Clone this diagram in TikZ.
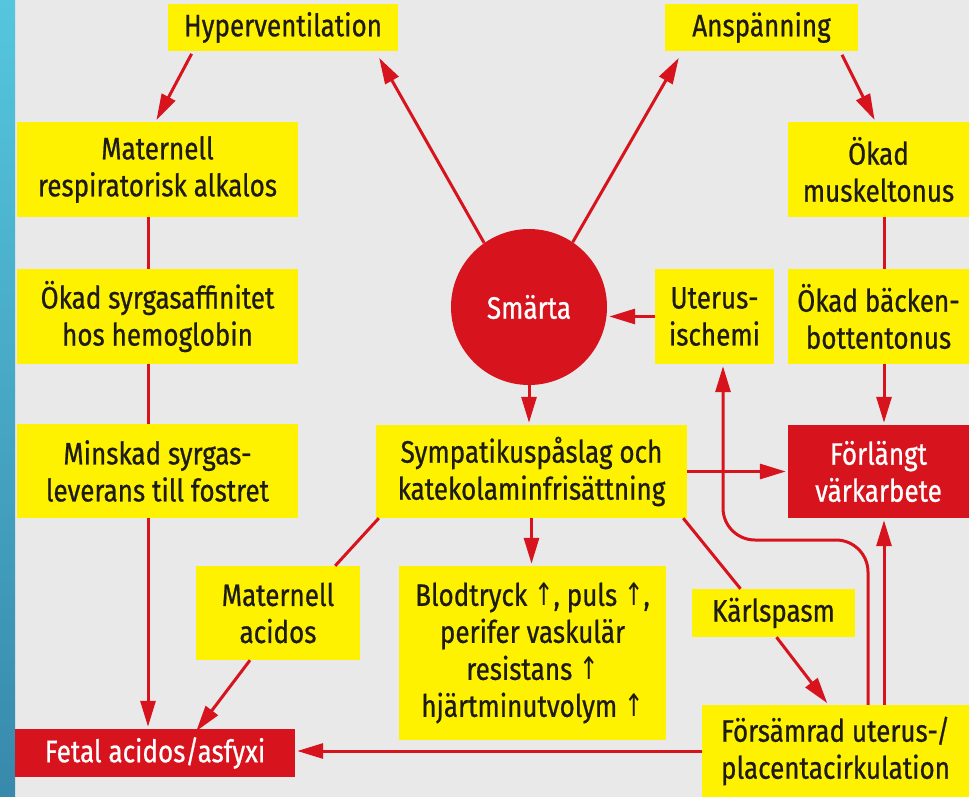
\documentclass[tikz,border=0pt]{standalone}
\usepackage{fontspec}
\setmainfont{Fira Sans}[FakeStretch=0.84, FakeBold=0.7]
\newfontfamily\arrfont{DejaVu Sans}[FakeStretch=0.75]
\usetikzlibrary{arrows.meta,calc}
\definecolor{bg}{HTML}{E9E9E9}
\definecolor{ybox}{HTML}{FFF200}
\definecolor{rbox}{HTML}{D7141D}
\definecolor{ink}{HTML}{1E1B14}
\definecolor{stripT}{HTML}{55C6DE}
\definecolor{stripB}{HTML}{3889AB}
\newcommand{\uparr}{{\arrfont ↑}}
\begin{document}
\begin{tikzpicture}[x=1pt,y=-1pt,
  ybx/.style={fill=ybox, text=ink, inner sep=0pt, align=center, font=\fontsize{31}{37}\selectfont},
  rbx/.style={fill=rbox, text=white, inner sep=0pt, align=center, font=\fontsize{31}{37}\selectfont},
  arr/.style={draw=rbox, line width=3pt, -{Triangle[length=26pt,width=15pt]}, shorten >=2pt},
  ln/.style={draw=rbox, line width=3pt},
]
\useasboundingbox (0,0) rectangle (969,797);
\fill[bg] (0,0) rectangle (969,797);
\shade[top color=stripT, bottom color=stripB] (0,0) rectangle (15,797);

% boxes
\node[ybx, minimum width=230pt, minimum height=47pt] (hyp) at (283,27.5) {Hyperventilation};
\node[ybx, minimum width=193pt, minimum height=47pt] (ansp) at (761.5,27.5) {Anspänning};
\node[ybx, minimum width=281pt, minimum height=95pt] (alk) at (157.5,169.5) {Maternell\\respiratorisk alkalos};
\node[ybx, minimum width=281pt, minimum height=95pt] (aff) at (157.5,316.5) {Ökad syrgasaffinitet\\hos hemoglobin};
\node[ybx, minimum width=281pt, minimum height=94pt] (minsk) at (157.5,471) {Minskad syrgas-\\leverans till fostret};
\node[rbx, minimum width=280pt, minimum height=48pt] (fetal) at (155,753) {Fetal acidos/asfyxi};
\node[ybx, minimum width=164pt, minimum height=94pt] (macid) at (278,613) {Maternell\\acidos};
\node[ybx, minimum width=267pt, minimum height=174pt] (blod) at (532.5,653) {Blodtryck \uparr, puls \uparr,\\perifer vaskulär\\resistans \uparr\\hjärtminutvolym \uparr};
\node[ybx, minimum width=163pt, minimum height=48pt] (karl) at (773.5,613) {Kärlspasm};
\node[ybx, minimum width=267pt, minimum height=92pt] (fors) at (835.5,751) {Försämrad uterus-/\\placentacirkulation};
\node[rbx, minimum width=181pt, minimum height=93pt] (forl) at (878.5,471.5) {Förlängt\\värkarbete};
\node[ybx, minimum width=311pt, minimum height=93pt] (symp) at (531.5,471.5) {Sympatikuspåslag och\\katekolaminfrisättning};
\node[ybx, minimum width=119pt, minimum height=95pt] (uter) at (714.5,316.5) {Uterus-\\ischemi};
\node[ybx, minimum width=181pt, minimum height=95pt] (back) at (878.5,316.5) {Ökad bäcken-\\bottentonus};
\node[ybx, minimum width=181pt, minimum height=95pt] (musk) at (878.5,169.5) {Ökad\\muskeltonus};
\node[circle, fill=rbox, text=white, inner sep=0pt, minimum size=156pt, font=\fontsize{31}{37}\selectfont] (smarta) at (529,307) {Smärta};

% helper columns
\coordinate (colL) at (148,0);
\coordinate (colF) at (884,0);
\coordinate (bendR) at (868,540);
\coordinate (bendL) at (723,540);

% connectors
\draw[arr, shorten <=3pt] ([xshift=-90pt]hyp.south) -- ([xshift=-2pt]alk.north);
\draw[arr] (smarta.125) -- ([xshift=-20pt,yshift=-5pt]hyp.south east);
\draw[arr] (smarta.56) -- ([xshift=15pt,yshift=-5pt]ansp.south west);
\draw[arr, shorten <=4pt] ([xshift=-18pt]ansp.south east) -- ([xshift=-3pt]musk.north);
\draw[ln] (colL |- alk.south) -- (colL |- aff.north);
\draw[ln] (colL |- aff.south) -- (colL |- minsk.north);
\draw[arr] (colL |- minsk.south) -- (colL |- fetal.north);
\draw[ln] (colF |- musk.south) -- (colF |- back.north);
\draw[arr] (colF |- back.south) -- (colF |- forl.north);
\draw[arr] (uter.west) -- (uter.west -| smarta.east);
\draw[arr] (smarta.south) -- (smarta.south |- symp.north);
\draw[arr] (symp.east) -- (symp.east -| forl.west);
\draw[arr] (symp.south) -- (symp.south |- blod.north);
\draw[ln] ([xshift=3pt]symp.south west) -- ([xshift=-25pt]macid.north east);
\draw[arr] ([xshift=-28pt]macid.south) -- ([xshift=40pt,yshift=-4pt]fetal.north);
\draw[ln] ([xshift=-4pt]symp.south east) -- ([xshift=-33pt]karl.north);
\draw[arr] ([xshift=3pt]karl.south) -- ([xshift=-7pt]fors.north);
\draw[arr] (fors.west) -- (fors.west -| fetal.east);
\draw[arr] (colF |- fors.north) -- (colF |- forl.south);
\draw[arr, rounded corners=32pt] (bendR |- fors.north) -- (bendR) -- (bendL) -- (bendL |- uter.south);
\end{tikzpicture}
\end{document}
